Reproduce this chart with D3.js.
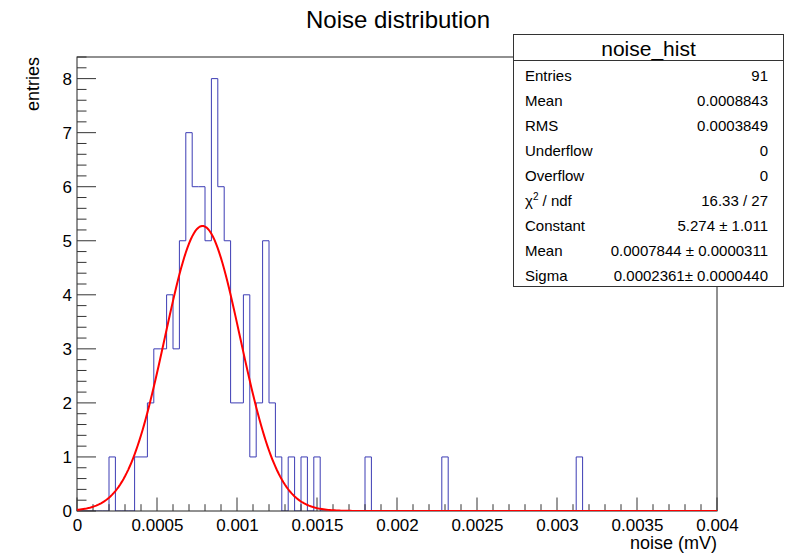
<!DOCTYPE html>
<html>
<head>
<meta charset="utf-8">
<script src="https://cdn.jsdelivr.net/npm/d3@7"></script>
<style>
  html, body { margin: 0; padding: 0; background: #fff; }
  svg { display: block; font-family: "Liberation Sans", Arial, Helvetica, sans-serif; }
</style>
</head>
<body>
<svg id="chart" width="790" height="553"></svg>
<script>
// Histogram binning: 100 bins over [0, 0.004] mV
const xMin = 0, xMax = 0.004, nBins = 100;
const counts = [
  0, 0, 0, 0, 0, 1, 0, 0, 0, 1,
  1, 2, 3, 3, 4, 3, 5, 7, 6, 6,
  5, 8, 6, 5, 2, 2, 4, 1, 2, 5,
  2, 1, 0, 1, 0, 1, 0, 1, 0, 0,
  0, 0, 0, 0, 0, 1, 0, 0, 0, 0,
  0, 0, 0, 0, 0, 0, 0, 1, 0, 0,
  0, 0, 0, 0, 0, 0, 0, 0, 0, 0,
  0, 0, 0, 0, 0, 0, 0, 0, 1, 0,
  0, 0, 0, 0, 0, 0, 0, 0, 0, 0,
  0, 0, 0, 0, 0, 0, 0, 0, 0, 0
];
const yMax = 8.4;

// Gaussian fit parameters
const fitConstant = 5.274, fitMean = 0.0007844, fitSigma = 0.0002361;

// Tick labels
const xTickValues = [0, 0.0005, 0.001, 0.0015, 0.002, 0.0025, 0.003, 0.0035, 0.004];
const xTickLabels = ["0", "0.0005", "0.001", "0.0015", "0.002", "0.0025", "0.003", "0.0035", "0.004"];
const yTickValues = [0, 1, 2, 3, 4, 5, 6, 7, 8];

// Statistics box
const statsTitle = "noise_hist";
const statLabels = ["Entries", "Mean", "RMS", "Underflow", "Overflow", "CHI2", "Constant", "Mean", "Sigma"];
const statValues = ["91", "0.0008843", "0.0003849", "0", "0", "16.33 / 27",
  "5.274 \u00b1 1.011", "0.0007844 \u00b1 0.0000311", "0.0002361\u00b1 0.0000440"];

const svg = d3.select("#chart");
const frame = { left: 77, right: 717, top: 57, bottom: 511 };

const x = d3.scaleLinear().domain([xMin, xMax]).range([frame.left, frame.right]);
const y = d3.scaleLinear().domain([0, yMax]).range([frame.bottom, frame.top]);
const binW = (xMax - xMin) / nBins;

// Title
svg.append("text")
  .attr("x", 398).attr("y", 28)
  .attr("text-anchor", "middle")
  .attr("font-size", 24)
  .text("Noise distribution");

// Histogram outline (step path)
svg.append("clipPath").attr("id", "plotclip")
  .append("rect")
  .attr("x", frame.left).attr("y", frame.top)
  .attr("width", frame.right - frame.left).attr("height", frame.bottom - frame.top);

let d = `M${x(xMin)},${y(0)}`;
counts.forEach((c, i) => {
  const x0 = x(xMin + i * binW), x1 = x(xMin + (i + 1) * binW);
  d += `L${x0},${y(c)}L${x1},${y(c)}`;
});
d += `L${x(xMax)},${y(0)}`;
svg.append("path")
  .attr("d", d)
  .attr("fill", "none")
  .attr("stroke", "#3c3cb4")
  .attr("stroke-width", 1)
  .attr("clip-path", "url(#plotclip)");

// Frame
svg.append("rect")
  .attr("x", frame.left).attr("y", frame.top)
  .attr("width", frame.right - frame.left).attr("height", frame.bottom - frame.top)
  .attr("fill", "none").attr("stroke", "#222").attr("stroke-width", 1);

// Y axis
const yMinor = d3.range(0, yMax + 1e-9, 0.2).filter(v => Math.abs(v - Math.round(v)) > 1e-6);
const yAxis = d3.axisLeft(y).tickValues(yTickValues).tickSize(0).tickPadding(5)
  .tickFormat(d3.format("d"));
const gy = svg.append("g").attr("transform", `translate(${frame.left},0)`).call(yAxis);
gy.select(".domain").remove();
gy.selectAll("text").attr("font-size", 17).attr("fill", "#000")
  .attr("font-family", "Liberation Sans, Arial, sans-serif");
svg.append("g").selectAll("line").data(yTickValues).join("line")
  .attr("x1", frame.left).attr("x2", frame.left + 19)
  .attr("y1", v => y(v)).attr("y2", v => y(v))
  .attr("stroke", "#333").attr("stroke-width", 1);
svg.append("g").selectAll("line").data(yMinor).join("line")
  .attr("x1", frame.left).attr("x2", frame.left + 9.5)
  .attr("y1", v => y(v)).attr("y2", v => y(v))
  .attr("stroke", "#333").attr("stroke-width", 1);

// X axis
const xMinor = d3.range(0, 41).map(k => k * 0.0001).filter((v, k) => k % 5 !== 0);
const xAxis = d3.axisBottom(x).tickValues(xTickValues).tickSize(0).tickPadding(8)
  .tickFormat((v, i) => xTickLabels[i]);
const gx = svg.append("g").attr("transform", `translate(0,${frame.bottom})`).call(xAxis);
gx.select(".domain").remove();
gx.selectAll("text").attr("font-size", 17).attr("fill", "#000")
  .attr("font-family", "Liberation Sans, Arial, sans-serif");
svg.append("g").selectAll("line").data(xTickValues).join("line")
  .attr("x1", v => x(v)).attr("x2", v => x(v))
  .attr("y1", frame.bottom).attr("y2", frame.bottom - 13.5)
  .attr("stroke", "#333").attr("stroke-width", 1);
svg.append("g").selectAll("line").data(xMinor).join("line")
  .attr("x1", v => x(v)).attr("x2", v => x(v))
  .attr("y1", frame.bottom).attr("y2", frame.bottom - 6.8)
  .attr("stroke", "#333").attr("stroke-width", 1);

// Axis titles
svg.append("text")
  .attr("x", frame.right).attr("y", 549)
  .attr("text-anchor", "end").attr("font-size", 18)
  .text("noise (mV)");
svg.append("text")
  .attr("transform", `translate(38.5,${frame.top}) rotate(-90)`)
  .attr("text-anchor", "end").attr("font-size", 18)
  .text("entries");

// Gaussian fit curve
const gauss = v => fitConstant * Math.exp(-0.5 * Math.pow((v - fitMean) / fitSigma, 2));
const fitXs = d3.range(0, 401).map(k => xMin + (xMax - xMin) * k / 400);
svg.append("path")
  .datum(fitXs)
  .attr("d", d3.line().x(v => x(v)).y(v => y(gauss(v))))
  .attr("fill", "none")
  .attr("stroke", "#ff0000")
  .attr("stroke-width", 2)
  .attr("clip-path", "url(#plotclip)");

// Statistics box
const box = { left: 513.5, right: 783.5, top: 34.5, bottom: 286.5, sep: 60.5 };
const gs = svg.append("g");
gs.append("rect")
  .attr("x", box.left).attr("y", box.top)
  .attr("width", box.right - box.left).attr("height", box.bottom - box.top)
  .attr("fill", "#fff").attr("stroke", "#333").attr("stroke-width", 1);
gs.append("line")
  .attr("x1", box.left).attr("x2", box.right)
  .attr("y1", box.sep).attr("y2", box.sep)
  .attr("stroke", "#333").attr("stroke-width", 1);
gs.append("text")
  .attr("x", (box.left + box.right) / 2).attr("y", 55.5)
  .attr("text-anchor", "middle").attr("font-size", 21)
  .text(statsTitle);

const rowY = i => 80.5 + i * 25;
statLabels.forEach((lab, i) => {
  const t = gs.append("text").attr("x", 525).attr("y", rowY(i)).attr("font-size", 15);
  if (lab === "CHI2") {
    t.append("tspan").text("\u03c7");
    t.append("tspan").attr("font-size", 10).attr("dy", -6).text("2");
    t.append("tspan").attr("dy", 6).text(" / ndf");
  } else {
    t.text(lab);
  }
  gs.append("text").attr("x", 768).attr("y", rowY(i))
    .attr("text-anchor", "end").attr("font-size", 15)
    .text(statValues[i]);
});
</script>
</body>
</html>
